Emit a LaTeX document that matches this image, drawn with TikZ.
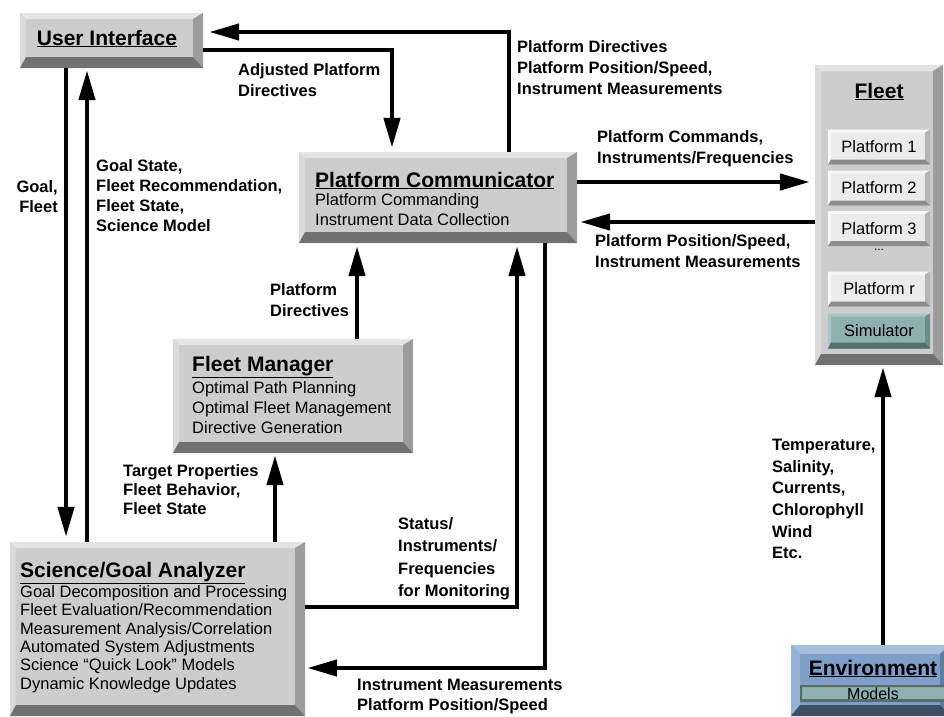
\documentclass[tikz,border=0pt]{standalone}
\usepackage{fontspec}
\setmainfont{Liberation Sans}
\usetikzlibrary{arrows.meta,calc}

\definecolor{gface}{HTML}{CDCDCD}
\definecolor{gtop}{HTML}{E4E4E4}
\definecolor{gleft}{HTML}{DADADA}
\definecolor{gright}{HTML}{9C9C9C}
\definecolor{gbot}{HTML}{717171}
\definecolor{pface}{HTML}{EBEBEB}
\definecolor{ptop}{HTML}{F8F8F8}
\definecolor{pright}{HTML}{B4B4B4}
\definecolor{pbot}{HTML}{8C8C8C}
\definecolor{sface}{HTML}{8FB0B0}
\definecolor{stopc}{HTML}{A9C5C5}
\definecolor{sright}{HTML}{6E8C8C}
\definecolor{sbot}{HTML}{566E6E}
\definecolor{eface}{HTML}{7E9FC9}
\definecolor{etop}{HTML}{A8BFDA}
\definecolor{eleft}{HTML}{95B1D3}
\definecolor{eright}{HTML}{5D7DA3}
\definecolor{ebot}{HTML}{3C4E64}
\definecolor{mborder}{HTML}{55696B}

\newcommand\lblfont{\fontsize{16.5}{21}\selectfont\bfseries}
\newcommand\ttlfont{\fontsize{21}{24}\selectfont\bfseries}
\newcommand\bodyfont{\fontsize{16.5}{20}\selectfont}
\newcommand\sbodyfont{\fontsize{16.5}{18.4}\selectfont}

\tikzset{
  bevel/.style n args={8}{path picture={
    \coordinate (bvnw) at (path picture bounding box.north west);
    \coordinate (bvne) at (path picture bounding box.north east);
    \coordinate (bvsw) at (path picture bounding box.south west);
    \coordinate (bvse) at (path picture bounding box.south east);
    \fill[#5] (bvnw) -- (bvne) -- ([shift={(-#3,-#1)}]bvne) -- ([shift={(#2,-#1)}]bvnw) -- cycle;
    \fill[#6] (bvnw) -- ([shift={(#2,-#1)}]bvnw) -- ([shift={(#2,#4)}]bvsw) -- (bvsw) -- cycle;
    \fill[#7] (bvne) -- (bvse) -- ([shift={(-#3,#4)}]bvse) -- ([shift={(-#3,-#1)}]bvne) -- cycle;
    \fill[#8] (bvsw) -- (bvse) -- ([shift={(-#3,#4)}]bvse) -- ([shift={(#2,#4)}]bvsw) -- cycle;
  }},
  gbox/.style={rectangle, inner sep=0pt, fill=gface,
    bevel={6pt}{6pt}{10pt}{11pt}{gtop}{gleft}{gright}{gbot}},
  pbox/.style={rectangle, inner sep=0pt, fill=pface, minimum width=102pt, minimum height=35pt,
    bevel={3pt}{3pt}{5pt}{5pt}{ptop}{ptop}{pright}{pbot}, font=\bodyfont},
  simbox/.style={rectangle, inner sep=0pt, fill=sface, minimum width=102pt, minimum height=35pt,
    bevel={3pt}{3pt}{5pt}{6pt}{stopc}{stopc}{sright}{sbot}, font=\bodyfont},
  ebox/.style={rectangle, inner sep=0pt, fill=eface,
    bevel={9pt}{9pt}{10pt}{11pt}{etop}{eleft}{eright}{ebot}},
  mbox/.style={rectangle, inner sep=0pt, fill=sface,
    bevel={2pt}{2pt}{0pt}{3pt}{mborder}{mborder}{mborder}{sbot},
    font=\fontsize{16}{18}\selectfont},
  lbl/.style={inner sep=0pt, align=left, anchor=west, font=\lblfont},
  ttl/.style={inner sep=0pt, anchor=base west, font=\ttlfont},
  body/.style={inner sep=0pt, align=left, anchor=west, font=\bodyfont},
  ln/.style={line width=4.5pt},
  arr/.style={line width=4.5pt, -{Triangle[length=30pt,width=16pt]}},
}

\begin{document}
\begin{tikzpicture}[x=1pt,y=-1pt]
\useasboundingbox (0,0) rectangle (944,716);
\clip (0,0) rectangle (944,716);

% boxes
\node[gbox, minimum width=183pt, minimum height=55pt] (ui) at (111.5,40.5) {};
\node[inner sep=0pt, anchor=base, font=\ttlfont] (uit) at (107,45) {\underline{User Interface}};

\node[gbox, minimum width=278pt, minimum height=91pt] (pc) at (438,197.5) {};
\node[ttl] (pct) at (315,187) {\underline{Platform Communicator}};
\node[body] (pcb) at (315,210) {Platform Commanding\\Instrument Data Collection};

\node[gbox, minimum width=240pt, minimum height=114pt] (fm) at (293,396) {};
\node[ttl] (fmt) at (192,371) {\underline{Fleet Manager}};
\node[body] (fmb) at (192,408) {Optimal Path Planning\\Optimal Fleet Management\\Directive Generation};

\node[gbox, minimum width=295pt, minimum height=174pt] (sga) at (157.5,629) {};
\node[ttl] (sgat) at (20,577) {\underline{Science/Goal Analyzer}};
\node[body, font=\sbodyfont] (sgab) at (20,639) {Goal Decomposition and Processing\\Fleet Evaluation/Recommendation\\Measurement Analysis/Correlation\\Automated System Adjustments\\Science ``Quick Look'' Models\\Dynamic Knowledge Updates};

\node[gbox, minimum width=128pt, minimum height=300pt] (fleet) at (879,215) {};
\node[inner sep=0pt, anchor=base, font=\ttlfont] (fleett) at (879,98) {\underline{Fleet}};
\node[pbox] (p1) at (879,147) {Platform 1};
\node[pbox] (p2) at (879,188) {Platform 2};
\node[pbox] (p3) at (879,228.5) {Platform 3};
\node[inner sep=0pt, font=\fontsize{12}{12}\selectfont] (pdots) at (879,250) {...};
\node[pbox] (pr) at (879,289) {Platform r};
\node[simbox] (sim) at (879,331) {Simulator};

\node[ebox, minimum width=159pt, minimum height=71pt] (env) at (870.5,680.5) {};
\node[inner sep=0pt, anchor=base, font=\ttlfont] (envt) at (873,675) {\underline{Environment}};
\node[mbox, minimum width=150pt, minimum height=17pt] (models) at (875,693.5) {};
\node[inner sep=0pt, font=\fontsize{16}{18}\selectfont] (modelst) at (873,694) {Models};

% labels
\node[lbl] (l1) at (238,80) {Adjusted Platform\\Directives};
\node[lbl] (l2) at (517,68) {Platform Directives\\Platform Position/Speed,\\Instrument Measurements};
\node[lbl, font=\fontsize{16.5}{20}\selectfont\bfseries] (l3) at (96,196) {Goal State,\\Fleet Recommendation,\\Fleet State,\\Science Model};
\node[lbl, align=right, anchor=east, font=\fontsize{16.5}{20}\selectfont\bfseries] (l4) at (58,197) {Goal,\\Fleet};
\node[lbl] (l5) at (597,149) {Platform Commands,\\Instruments/Frequencies};
\node[lbl] (l6) at (595,251) {Platform Position/Speed,\\Instrument Measurements};
\node[lbl] (l7) at (270,300) {Platform\\Directives};
\node[lbl, font=\fontsize{16.5}{19}\selectfont\bfseries] (l8) at (123,490) {Target Properties\\Fleet Behavior,\\Fleet State};
\node[lbl, font=\fontsize{16.5}{22.5}\selectfont\bfseries] (l9) at (398,559) {Status/\\Instruments/\\Frequencies\\for Monitoring};
\node[lbl, font=\fontsize{16.5}{20}\selectfont\bfseries] (l10) at (357,697) {Instrument Measurements\\Platform Position/Speed};
\node[lbl, font=\fontsize{16.5}{21.6}\selectfont\bfseries] (l11) at (772,499) {Temperature,\\Salinity,\\Currents,\\Chlorophyll\\Wind\\Etc.};

% connectors
\draw[arr, shorten >=6pt] (pc.north -| 509,0) |- (ui.east |- 0,32);
\draw[arr, shorten >=4pt] (ui.east |- 0,50) -| (pc.north -| 392,0);
\draw[arr, shorten >=5pt] (ui.south -| 66,0) -- (sga.north -| 66,0);
\draw[arr, shorten >=2pt] (sga.north -| 87,0) -- (ui.south -| 87,0);
\draw[arr, shorten >=2pt] (sga.north -| 275,0) -- (fm.south -| 275,0);
\draw[arr, shorten >=3pt] (fm.north -| 357,0) -- (pc.south -| 357,0);
\draw[arr, shorten >=3pt] (sga.east |- 0,607) -| (pc.south -| 517,0);
\draw[arr, shorten >=2pt] (pc.south -| 545,0) |- (sga.east |- 0,668);
\draw[arr, shorten >=5pt] (pc.east |- 0,182) -- (fleet.west |- 0,182);
\draw[arr, shorten >=3pt] (fleet.west |- 0,222) -- (pc.east |- 0,222);
\draw[arr, shorten >=2pt] (env.north -| 883,0) -- (fleet.south -| 883,0);
\end{tikzpicture}
\end{document}
